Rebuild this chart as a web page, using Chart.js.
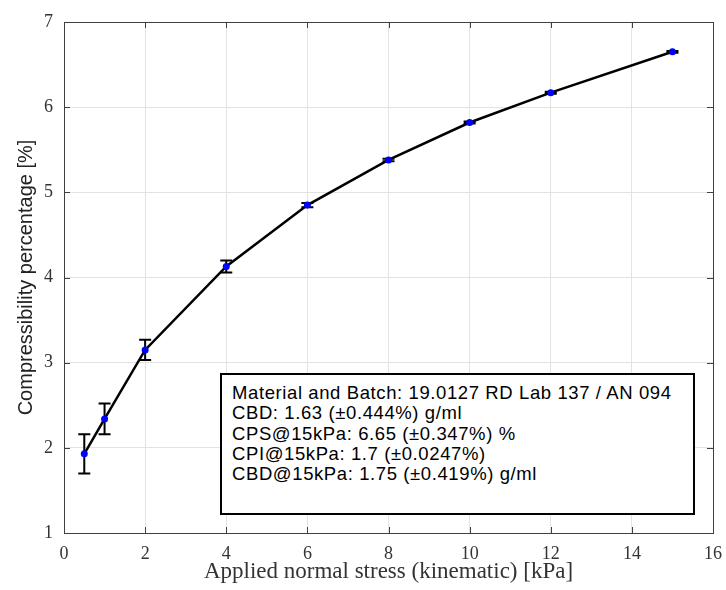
<!DOCTYPE html>
<html>
<head>
<meta charset="utf-8">
<script src="https://cdn.jsdelivr.net/npm/chart.js@4"></script>
<style>
  html, body { margin: 0; padding: 0; background: #fff; }
  #wrap { position: relative; width: 726px; height: 590px; }
  #info {
    position: absolute; left: 220px; top: 373px; width: 475px; height: 142px;
    border: 2px solid #000; background: #fff; box-sizing: border-box;
    font-family: 'Liberation Sans', Arial, sans-serif; font-size: 18.5px;
    letter-spacing: 0.6px; line-height: 20.3px; padding: 8px 0 0 10px; color: #000;
  }
</style>
</head>
<body>
<div id="wrap">
  <canvas id="c" width="726" height="590"></canvas>
  <div id="info"></div>
</div>
<script>
// data
const stress = [0.5, 1, 2, 4, 6, 8, 10, 12, 15];
const compress = [1.93, 2.34, 3.15, 4.13, 4.85, 5.38, 5.82, 6.17, 6.65];
const errBar = [0.23, 0.18, 0.12, 0.07, 0.025, 0.015, 0.012, 0.012, 0.01];
const xTicks = [0, 2, 4, 6, 8, 10, 12, 14, 16];
const yTicks = [1, 2, 3, 4, 5, 6, 7];
const infoLines = [
  'Material and Batch: 19.0127 RD Lab 137 / AN 094',
  'CBD: 1.63 (\u00b10.444%) g/ml',
  'CPS@15kPa: 6.65 (\u00b10.347%) %',
  'CPI@15kPa: 1.7 (\u00b10.0247%)',
  'CBD@15kPa: 1.75 (\u00b10.419%) g/ml'
];

document.getElementById('info').innerHTML = infoLines.join('<br>');

const serif = "'Liberation Serif', 'DejaVu Serif', serif";
const sans = "'Liberation Sans', Arial, sans-serif";

/* box, inward ticks and error bars, MATLAB style */
const matlabBits = {
  id: 'matlabBits',
  afterDatasetsDraw(chart) {
    const { ctx, chartArea: a, scales: { x, y } } = chart;
    ctx.save();
    // error bars
    ctx.strokeStyle = '#000';
    ctx.lineWidth = 2;
    stress.forEach((s, i) => {
      const px = x.getPixelForValue(s);
      const top = y.getPixelForValue(compress[i] + errBar[i]);
      const bot = y.getPixelForValue(compress[i] - errBar[i]);
      ctx.beginPath();
      ctx.moveTo(px, top); ctx.lineTo(px, bot);
      ctx.moveTo(px - 6, top); ctx.lineTo(px + 6, top);
      ctx.moveTo(px - 6, bot); ctx.lineTo(px + 6, bot);
      ctx.stroke();
    });
    // redraw markers above the bars
    const meta = chart.getDatasetMeta(0);
    ctx.fillStyle = '#0000ff';
    meta.data.forEach(pt => {
      ctx.beginPath();
      ctx.arc(pt.x, pt.y, 3.5, 0, Math.PI * 2);
      ctx.fill();
    });
    // axes box
    ctx.strokeStyle = '#404040';
    ctx.lineWidth = 1;
    ctx.strokeRect(a.left + 0.5, a.top + 0.5, a.right - a.left, a.bottom - a.top);
    // inward ticks
    ctx.beginPath();
    xTicks.forEach(v => {
      const px = Math.round(x.getPixelForValue(v)) + 0.5;
      ctx.moveTo(px, a.bottom); ctx.lineTo(px, a.bottom - 6);
      ctx.moveTo(px, a.top); ctx.lineTo(px, a.top + 6);
    });
    yTicks.forEach(v => {
      const py = Math.round(y.getPixelForValue(v)) + 0.5;
      ctx.moveTo(a.left, py); ctx.lineTo(a.left + 6, py);
      ctx.moveTo(a.right, py); ctx.lineTo(a.right - 6, py);
    });
    ctx.stroke();
    ctx.restore();
  }
};

new Chart(document.getElementById('c'), {
  type: 'line',
  data: {
    datasets: [{
      data: stress.map((s, i) => ({ x: s, y: compress[i] })),
      borderColor: '#000',
      borderWidth: 2.5,
      pointRadius: 0,
      tension: 0,
      fill: false
    }]
  },
  options: {
    responsive: false,
    animation: false,
    layout: { padding: { top: 22, right: 13, left: 6, bottom: 0 } },
    plugins: { legend: { display: false }, tooltip: { enabled: false } },
    scales: {
      x: {
        type: 'linear', min: 0, max: 16,
        afterBuildTicks: s => { s.ticks = xTicks.map(v => ({ value: v })); },
        afterFit: s => { s.height = 57; s.paddingLeft = 0; s.paddingRight = 0; },
        grid: { color: '#e3e3e3', drawTicks: false },
        border: { display: false },
        ticks: { color: '#333', font: { family: serif, size: 18 }, padding: 10 },
        title: {
          display: true, text: 'Applied normal stress (kinematic) [kPa]',
          color: '#333', font: { family: serif, size: 23 }, padding: { top: 0 }
        }
      },
      y: {
        type: 'linear', min: 1, max: 7,
        afterBuildTicks: s => { s.ticks = yTicks.map(v => ({ value: v })); },
        afterFit: s => { s.width = 58; s.paddingTop = 0; s.paddingBottom = 0; },
        grid: { color: '#e3e3e3', drawTicks: false },
        border: { display: false },
        ticks: { color: '#333', font: { family: serif, size: 18 }, padding: 11 },
        title: {
          display: true, text: 'Compressibility percentage [%]',
          color: '#222', font: { family: sans, size: 20 }, padding: { top: 8, bottom: 4 }
        }
      }
    }
  },
  plugins: [matlabBits]
});
</script>
</body>
</html>
